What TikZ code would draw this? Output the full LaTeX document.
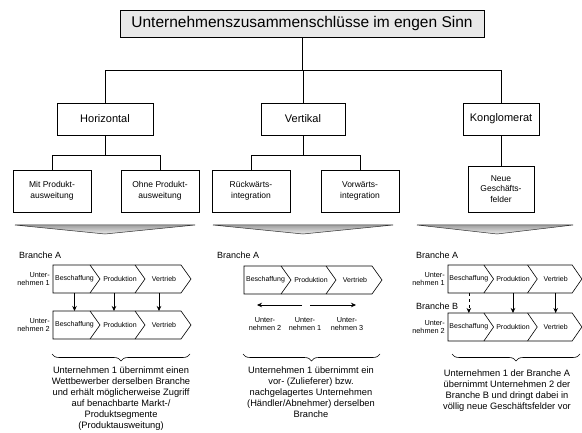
\documentclass[tikz,border=0pt]{standalone}
\usepackage{fontspec}
\setmainfont{Liberation Sans}
\usetikzlibrary{decorations.pathreplacing,calc,arrows.meta}
\newcommand\chevrow[2]{%
\begin{scope}[#1]
 \draw[chevline,fill=white] (0,0) -- (128,0) -- (138,14) -- (128,28) -- (0,28) -- cycle;
 \draw[chevline] (37,0) -- (47,14) -- (37,28);
 \draw[chevline] (82,0) -- (92,14) -- (82,28);
 \coordinate (#2t) at (0,0);
 \coordinate (#2d) at (0,28);
 \node[ctext] (#2b) at (21.5,14) {Beschaffung};
 \node[ctext] (#2p) at (67,14) {Produktion};
 \node[ctext] (#2v) at (111,14) {Vertrieb};
\end{scope}}
\tikzset{
 conn/.style={line width=0.6pt},
 chevline/.style={line width=0.6pt},
 box/.style={draw, line width=0.6pt, align=center, inner sep=0pt},
 lone/.style={box, minimum height=32, font=\fontsize{11}{13}\selectfont},
 ltwo/.style={box, minimum width=78, minimum height=42, font=\fontsize{8.5}{10.5}\selectfont},
 ctext/.style={inner sep=0pt, font=\fontsize{7}{8}\selectfont},
 ulabel/.style={inner sep=0pt, align=right, font=\fontsize{7.3}{8.7}\selectfont},
 mlabel/.style={inner sep=0pt, align=center, font=\fontsize{7.3}{8.7}\selectfont},
 branch/.style={inner sep=0pt, anchor=west, font=\fontsize{9}{10}\selectfont},
 desc/.style={inner sep=0pt, align=center, anchor=north, font=\fontsize{9.3}{11}\selectfont},
 arr/.style={line width=0.6pt, -{Stealth[length=5pt,width=4.5pt]}},
 tri/.style={top color=gray!75, bottom color=gray!15, draw=black!80, line width=0.5pt},
 bracestyle/.style={line width=0.6pt, decorate, decoration={brace, mirror, amplitude=7pt}}
}
\begin{document}
\begin{tikzpicture}[x=1pt,y=-1pt]
\path[use as bounding box, fill=white] (0,0) rectangle (582,433);
% title
\node[draw, line width=0.6pt, fill=gray!18, minimum width=364, minimum height=27, inner sep=0pt,
  font=\fontsize{15.5}{18}\selectfont] (T) at (302,23.5) {Unternehmenszusammenschlüsse im engen Sinn};
% level 1
\node[lone, minimum width=96] (H) at (105,119) {Horizontal};
\node[lone, minimum width=84] (V) at (303,119) {Vertikal};
\node[lone, minimum width=76] (K) at (501,119) {Konglomerat};
\coordinate (bus) at (0,70);
\draw[conn] (T.south) -- (T.south |- bus);
\draw[conn] (H.north) -- (H.north |- bus) -- (K.north |- bus) -- (K.north);
\draw[conn] (V.north) -- (V.north |- bus);
% level 2
\node[ltwo] (mit) at (52,191) {Mit Produkt-\\ausweitung};
\node[ltwo] (ohne) at (160,191) {Ohne Produkt-\\ausweitung};
\node[ltwo] (rueck) at (251,191) {Rückwärts-\\integration};
\node[ltwo] (vor) at (360,191) {Vorwärts-\\integration};
\node[ltwo, minimum width=66, minimum height=46] (neue) at (501,189) {Neue\\Geschäfts-\\felder};
\coordinate (bustwo) at (0,155);
\draw[conn] (H.south) -- (H.south |- bustwo);
\draw[conn] (mit.north) -- (mit.north |- bustwo) -- (ohne.north |- bustwo) -- (ohne.north);
\draw[conn] (V.south) -- (V.south |- bustwo);
\draw[conn] (rueck.north) -- (rueck.north |- bustwo) -- (vor.north |- bustwo) -- (vor.north);
\draw[conn] (K.south) -- (neue.north);
% triangles
\shade[tri] (15,225) -- (195,225) -- (105,234) -- cycle;
\shade[tri] (213,225) -- (393,225) -- (303,234) -- cycle;
\shade[tri] (417,225) -- (573,225) -- (497,234) -- cycle;
% left column
\node[branch] (bl) at (19,255) {Branche A};
\chevrow{shift={(53,265)}}{ha}
\chevrow{shift={(53,311)}}{hb}
\node[ulabel, anchor=east] (hua) at (50,279) {Unter-\\nehmen 1};
\node[ulabel, anchor=east] (hub) at (50,325) {Unter-\\nehmen 2};
\draw[arr] (hab |- had) -- (hab |- hbt);
\draw[arr] ($(hap |- had)+(-6,0)$) -- ($(hap |- hbt)+(-6,0)$);
\draw[arr] ($(hav |- had)+(-5,0)$) -- ($(hav |- hbt)+(-5,0)$);
\draw[bracestyle] (52,354) -- (190,354);
\node[desc] (dh) at (121,367) {Unternehmen 1 übernimmt einen\\Wettbewerber derselben Branche\\und erhält möglicherweise Zugriff\\auf benachbarte Markt-/\\Produktsegmente\\(Produktausweitung)};
% middle column
\node[branch] (bm) at (217,255) {Branche A};
\chevrow{shift={(244,266)}}{va}
\node[mlabel] (vu2) at (265,324) {Unter-\\nehmen 2};
\node[mlabel] (vu1) at (305,324) {Unter-\\nehmen 1};
\node[mlabel] (vu3) at (347,324) {Unter-\\nehmen 3};
\coordinate (la) at (302,305);
\coordinate (lb) at (257,305);
\coordinate (ra) at (310,305);
\coordinate (rb) at (356,305);
\draw[arr] (la) -- (lb);
\draw[arr] (ra) -- (rb);
\draw[bracestyle] (243,354) -- (380,354);
\node[desc] (dv) at (311,367) {Unternehmen 1 übernimmt ein\\vor- (Zulieferer) bzw.\\nachgelagertes Unternehmen\\(Händler/Abnehmer) derselben\\Branche};
% right column
\node[branch] (bra) at (416,255) {Branche A};
\node[branch] (brb) at (416,306) {Branche B};
\chevrow{shift={(448,265)},xscale=0.97}{ka}
\chevrow{shift={(448,313)},xscale=0.97}{kb}
\node[ulabel, anchor=east] (kua) at (445,279) {Unter-\\nehmen 1};
\node[ulabel, anchor=east] (kub) at (445,327) {Unter-\\nehmen 2};
\draw[arr, dashed] (kab |- kad) -- (kab |- kbt);
\draw[arr] (kap |- kad) -- (kap |- kbt);
\draw[arr] (kav |- kad) -- (kav |- kbt);
\draw[bracestyle] (452,354) -- (580,354);
\node[desc] (dk) at (507,370) {Unternehmen 1 der Branche A\\übernimmt Unternehmen 2 der\\Branche B und dringt dabei in\\völlig neue Geschäftsfelder vor};
\end{tikzpicture}
\end{document}
